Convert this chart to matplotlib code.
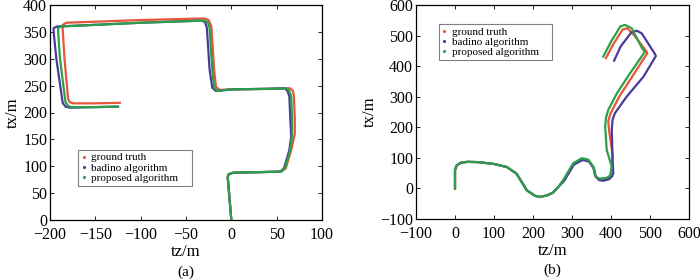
import matplotlib.pyplot as plt

plt.rcParams['font.family'] = ['Liberation Serif', 'DejaVu Serif']

# ---- panel (a) ----
a_gt_tz = [0, -2, -4, -3, 2, 30, 55, 60, 66, 70, 70, 69, 68, 65, 40, 0, -13, -17, -19, -22, -25, -30, -100, -182, -186, -186, -184, -180, -178, -174, -150, -123]
a_gt_tx = [0, 40, 80, 85, 88, 89, 90, 96, 130, 160, 190, 230, 240, 245, 244, 243, 242, 248, 280, 360, 372, 375, 372, 367, 363, 355, 300, 225, 219, 217, 217, 218]

a_bd_tz = [0, -2, -4, -3, 2, 30, 54, 58, 64, 66, 65, 64, 62, 59, 40, 0, -17, -21, -24, -27, -29, -33, -100, -192, -196, -196, -193, -186, -183, -178, -150, -125]
a_bd_tx = [0, 40, 80, 85, 88, 89, 90, 96, 130, 155, 190, 230, 240, 245, 244, 243, 240, 246, 280, 358, 368, 371, 367, 360, 357, 350, 300, 218, 211, 209, 210, 211]

a_pr_tz = [0, -2, -4, -3, 2, 30, 55, 59, 65, 67, 67, 66, 64, 61, 40, 0, -15, -19, -21, -24, -26, -30, -100, -188, -191, -191, -189, -183, -180, -176, -150, -125]
a_pr_tx = [0, 40, 80, 85, 88, 89, 90, 96, 130, 158, 190, 230, 240, 245, 244, 243, 240, 246, 280, 358, 368, 371, 367, 360, 357, 350, 300, 220, 212, 210, 210, 211]

# ---- panel (b) ----
b_gt_tz = [0, 0, 4, 15, 32, 60, 100, 133, 158, 184, 205, 218, 235, 251, 265, 278, 303, 325, 342, 355, 359, 366, 374, 390, 398, 402, 404, 395, 393, 399, 421, 457, 493, 490, 460, 442, 430, 405, 387]
b_gt_tx = [0, 60, 75, 84, 87, 86, 80, 70, 48, -6, -24, -28, -23, -14, 5, 27, 80, 96, 91, 68, 42, 32, 28, 32, 40, 62, 110, 191, 220, 246, 300, 371, 442, 450, 500, 524, 520, 470, 426]

b_bd_tz = [0, 0, 4, 15, 32, 60, 100, 133, 158, 184, 205, 218, 235, 251, 265, 280, 305, 327, 344, 357, 361, 370, 380, 395, 403, 406, 404, 402, 404, 410, 440, 483, 515, 512, 479, 466, 452, 425, 408]
b_bd_tx = [0, 60, 75, 84, 87, 86, 80, 70, 48, -6, -24, -28, -23, -14, 5, 25, 78, 93, 88, 63, 38, 27, 25, 30, 40, 50, 93, 191, 225, 246, 300, 365, 433, 441, 507, 516, 510, 465, 418]

b_pr_tz = [0, 0, 4, 15, 32, 60, 100, 133, 158, 184, 205, 218, 235, 251, 265, 278, 303, 325, 342, 355, 359, 365, 372, 389, 398, 402, 389, 385, 387, 393, 415, 449, 487, 480, 453, 436, 424, 400, 380]
b_pr_tx = [0, 60, 75, 84, 87, 86, 80, 70, 48, -6, -24, -28, -23, -14, 5, 28, 82, 99, 94, 71, 44, 35, 32, 35, 42, 71, 126, 202, 230, 257, 311, 377, 447, 458, 524, 535, 530, 480, 431]

labels = ['ground truth', 'badino algorithm', 'proposed algorithm']
colors = ['#e8553a', '#4a3a9c', '#2aa04a']

fig = plt.figure(figsize=(7, 2.8), dpi=100)
ax1 = fig.add_axes([50 / 700, 60 / 280, 272 / 700, 215 / 280])
ax2 = fig.add_axes([416 / 700, 61 / 280, 273 / 700, 214 / 280])

panels = [
    (ax1, [(a_gt_tz, a_gt_tx), (a_bd_tz, a_bd_tx), (a_pr_tz, a_pr_tx)],
     (-200, 100), (0, 400), range(-200, 101, 50), range(0, 401, 50),
     '(a)', (0.103, 0.172, 0.418, 0.154)),
    (ax2, [(b_gt_tz, b_gt_tx), (b_bd_tz, b_bd_tx), (b_pr_tz, b_pr_tx)],
     (-100, 600), (-100, 600), range(-100, 601, 100), range(-100, 601, 100),
     '(b)', (0.084, 0.738, 0.414, 0.173)),
]

for ax, series, xl, yl, xt, yt, tag, lbox in panels:
    for (tz, tx), c, lab in zip(series, colors, labels):
        ax.plot(tz, tx, color=c, lw=1.6, solid_joinstyle='round')
        ax.plot([], [], ls='none', marker='.', ms=2.5, color=c, label=lab)
    ax.set_xlim(*xl)
    ax.set_ylim(*yl)
    ax.set_xticks(list(xt))
    ax.set_yticks(list(yt))
    ax.tick_params(direction='in', top=True, right=True, labelsize=11.5,
                   length=3, width=0.6)
    ax.tick_params(axis='x', pad=5)
    ax.tick_params(axis='y', pad=2)
    for s in ax.spines.values():
        s.set_linewidth(0.9)
    ax.set_xlabel('tz/m', fontsize=12, labelpad=1)
    ax.set_ylabel('tx/m', fontsize=12, labelpad=2)
    ax.text(0.5, -0.21, tag, transform=ax.transAxes, ha='center', va='top', fontsize=11)
    leg = ax.legend(loc='upper left', bbox_to_anchor=lbox, mode='expand',
                    fontsize=8, handlelength=0.5, handletextpad=0.4,
                    labelspacing=0.05, borderpad=0.25, fancybox=False,
                    framealpha=1, edgecolor='#808080', borderaxespad=0)
    leg.get_frame().set_linewidth(0.8)

fig.savefig('out.png', dpi=100)
